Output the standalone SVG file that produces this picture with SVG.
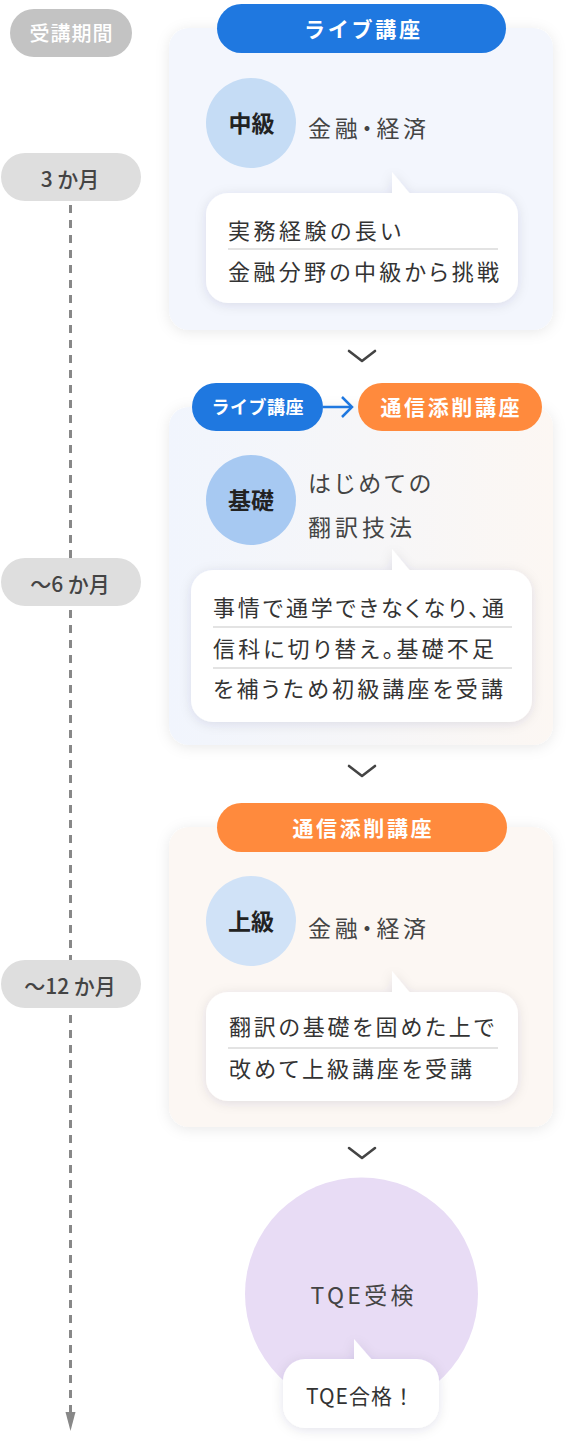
<svg xmlns="http://www.w3.org/2000/svg" width="584" height="1452" viewBox="0 0 584 1452">
<defs>
<style>
text{font-family:"Noto Sans CJK JP","Noto Sans",sans-serif;}
.tl{fill:#dedede;}
.tlt{font-size:21px;font-weight:500;fill:#444;text-anchor:middle;}
.card{filter:url(#cs);}
.hdr{font-size:21px;font-weight:700;fill:#fff;text-anchor:middle;}
.circ{font-size:23px;font-weight:700;fill:#222;text-anchor:middle;}
.sub{font-size:23px;font-weight:400;fill:#444;font-feature-settings:"palt";}
.bt{font-size:22px;fill:#333;font-feature-settings:"palt";}
.sep{stroke:#c8c8c8;stroke-width:1.2;}
.bub{fill:#fff;}
.chev{fill:none;stroke:#444;stroke-width:2.6;stroke-linecap:round;stroke-linejoin:round;}
</style>
<filter id="cs" x="-20%" y="-20%" width="140%" height="140%">
<feDropShadow dx="0" dy="2" stdDeviation="7" flood-color="#000" flood-opacity="0.09"/>
</filter>
<filter id="bs" x="-20%" y="-30%" width="140%" height="160%">
<feDropShadow dx="0" dy="2" stdDeviation="6" flood-color="#1a2050" flood-opacity="0.11"/>
</filter>
<linearGradient id="g2" x1="0" y1="0" x2="1" y2="0">
<stop offset="0" stop-color="#f1f5fd"/>
<stop offset="0.5" stop-color="#f6f6f8"/>
<stop offset="1" stop-color="#fcf7f3"/>
</linearGradient>
</defs>
<rect width="584" height="1452" fill="#fff"/>

<g id="connectors">
<line x1="70.5" y1="205" x2="70.5" y2="1412" stroke="#888" stroke-width="3" stroke-dasharray="8 7"/>
<polygon points="65.5,1412 75.5,1412 70.5,1431" fill="#888"/>
<polyline class="chev" points="349,351 362,361 375,351"/>
<polyline class="chev" points="349,766 362,776 375,766"/>
<polyline class="chev" points="349,1148 362,1158 375,1148"/>
</g>

<g id="timeline-header">
<rect x="10" y="9" width="122" height="48" rx="24" fill="#c3c3c3"/>
<text x="71" y="41" font-size="20" font-weight="500" fill="#fff" text-anchor="middle" textLength="83" lengthAdjust="spacing">受講期間</text>
</g>
<g id="t-3m">
<rect class="tl" x="1" y="153" width="140" height="48" rx="24"/>
<text class="tlt" x="70" y="187">3 か月</text>
</g>
<g id="t-6m">
<rect class="tl" x="1" y="558" width="140" height="48" rx="24"/>
<text class="tlt" x="70" y="592">〜6 か月</text>
</g>
<g id="t-12m">
<rect class="tl" x="1" y="960" width="140" height="48" rx="24"/>
<text class="tlt" x="70" y="994">〜12 か月</text>
</g>

<g id="card1">
<rect class="card" x="169" y="28" width="384" height="302" rx="20" fill="#f3f6fd"/>
<rect x="217" y="4" width="289" height="49" rx="24.5" fill="#1f78e0"/>
<text class="hdr" x="362" y="37" textLength="116" lengthAdjust="spacing">ライブ講座</text>
<circle cx="251" cy="123" r="45" fill="#c5dcf5"/>
<text class="circ" x="251.5" y="132">中級</text>
<text class="sub" x="308" y="137" textLength="118" lengthAdjust="spacing">金融・経済</text>
<g filter="url(#bs)">
<rect class="bub" x="206" y="193" width="312" height="110" rx="22"/>
<polygon class="bub" points="392,172 392,195 411,195"/>
</g>
<text class="bt" x="228" y="239" textLength="173" lengthAdjust="spacing">実務経験の長い</text>
<line class="sep" x1="228" y1="249" x2="498" y2="249"/>
<text class="bt" x="228" y="280" textLength="271" lengthAdjust="spacing">金融分野の中級から挑戦</text>
</g>

<g id="card2">
<rect class="card" x="169" y="407" width="384" height="338" rx="20" fill="url(#g2)"/>
<rect x="192" y="383" width="131" height="48" rx="24" fill="#1f78e0"/>
<text x="257.5" y="414" font-size="18" font-weight="700" fill="#fff" text-anchor="middle" textLength="92" lengthAdjust="spacing">ライブ講座</text>
<line x1="323" y1="407" x2="351" y2="407" stroke="#1f78e0" stroke-width="2.5"/>
<polyline points="342,397 352,407 342,417" fill="none" stroke="#1f78e0" stroke-width="2.5"/>
<rect x="358" y="383" width="184" height="48" rx="24" fill="#ff8a3d"/>
<text class="hdr" x="450" y="415" font-size="22" textLength="139" lengthAdjust="spacing">通信添削講座</text>
<circle cx="251" cy="500" r="45" fill="#a7c9f2"/>
<text class="circ" x="251" y="509">基礎</text>
<text class="sub" x="308" y="492" textLength="123" lengthAdjust="spacing">はじめての</text>
<text class="sub" x="308" y="536" textLength="104" lengthAdjust="spacing">翻訳技法</text>
<g filter="url(#bs)">
<rect class="bub" x="191" y="570" width="341" height="152" rx="22"/>
<polygon class="bub" points="392,549 392,572 411,572"/>
</g>
<text class="bt" x="213" y="616" textLength="291" lengthAdjust="spacing">事情で通学できなくなり、通</text>
<line class="sep" x1="213" y1="627" x2="512" y2="627"/>
<text class="bt" x="213" y="657" textLength="281" lengthAdjust="spacing">信科に切り替え。基礎不足</text>
<line class="sep" x1="213" y1="668" x2="512" y2="668"/>
<text class="bt" x="213" y="697" textLength="290" lengthAdjust="spacing">を補うため初級講座を受講</text>
</g>

<g id="card3">
<rect class="card" x="169" y="827" width="384" height="300" rx="20" fill="#fcf7f3"/>
<rect x="217" y="803" width="290" height="49" rx="24.5" fill="#ff8a3d"/>
<text class="hdr" x="362" y="836" font-size="22" textLength="139" lengthAdjust="spacing">通信添削講座</text>
<circle cx="251" cy="921" r="45" fill="#d0e2f7"/>
<text class="circ" x="251" y="930">上級</text>
<text class="sub" x="308" y="937" textLength="118" lengthAdjust="spacing">金融・経済</text>
<g filter="url(#bs)">
<rect class="bub" x="206" y="992" width="312" height="109" rx="22"/>
<polygon class="bub" points="392,971 392,994 411,994"/>
</g>
<text class="bt" x="229" y="1035" textLength="265" lengthAdjust="spacing">翻訳の基礎を固めた上で</text>
<line class="sep" x1="228" y1="1048" x2="498" y2="1048"/>
<text class="bt" x="229" y="1077" textLength="243" lengthAdjust="spacing">改めて上級講座を受講</text>
</g>

<g id="tqe">
<circle cx="361.5" cy="1294" r="116.5" fill="#e8dcf5"/>
<text x="362" y="1304" font-size="23" fill="#444" text-anchor="middle" textLength="103" lengthAdjust="spacing">TQE受検</text>
<g filter="url(#bs)">
<rect class="bub" x="283" y="1359" width="156" height="69" rx="22"/>
<polygon class="bub" points="354,1339 354,1361 373,1361"/>
</g>
<text x="360" y="1404" font-size="21" fill="#333" text-anchor="middle" textLength="108" lengthAdjust="spacing">TQE合格！</text>
</g>
</svg>
